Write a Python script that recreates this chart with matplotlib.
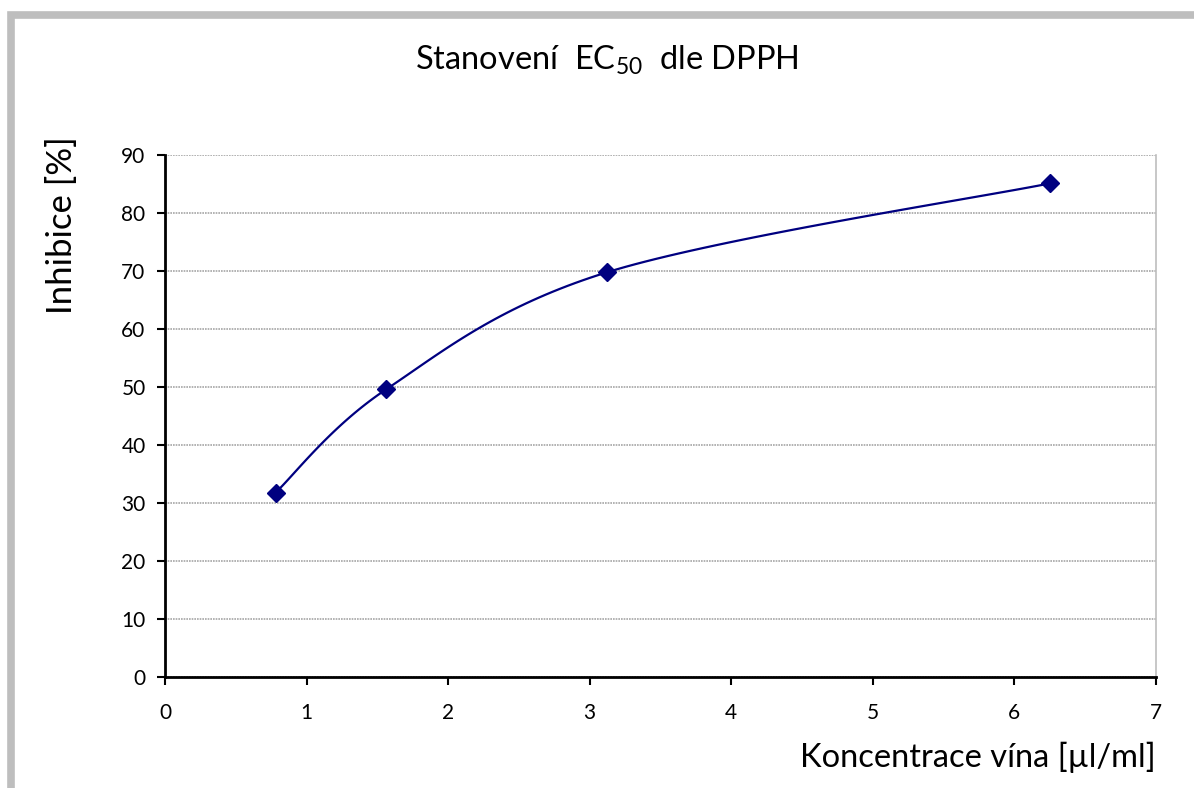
import numpy as np
import matplotlib
matplotlib.use("Agg")
import matplotlib.pyplot as plt
from matplotlib.patches import Rectangle

plt.rcParams['font.family'] = ['Lato', 'DejaVu Sans']
plt.rcParams['mathtext.fontset'] = 'custom'
plt.rcParams['mathtext.rm'] = 'Lato'

concentration = [0.78125, 1.5625, 3.125, 6.25]
inhibition = [31.8, 49.6, 69.8, 85.1]
x_ticks = [0, 1, 2, 3, 4, 5, 6, 7]
y_ticks = [0, 10, 20, 30, 40, 50, 60, 70, 80, 90]

W, H = 1194, 788
fig = plt.figure(figsize=(W / 100, H / 100), dpi=100)
ax = fig.add_axes([165 / W, 1 - 677 / H, (1156 - 165) / W, (677 - 155) / H])
ax.set_xlim(0, 7)
ax.set_ylim(0, 90)

# figure border (gray frame, cropped on right/bottom)
fig.add_artist(Rectangle((10.5 / W, -0.1), 1.2, 1 - 15.5 / H + 0.1, transform=fig.transFigure,
                         fill=False, edgecolor='#BEBEBE', linewidth=5.5, zorder=0))

# Excel-like smoothed line: Catmull-Rom in display space
def smooth(xs, ys, n=40):
    pts = ax.transData.transform(np.column_stack([xs, ys]))
    P = np.vstack([pts[0], pts, pts[-1]])
    out = []
    for i in range(1, len(P) - 2):
        p0, p1, p2, p3 = P[i - 1], P[i], P[i + 1], P[i + 2]
        c1 = p1 + (p2 - p0) / 6
        c2 = p2 - (p3 - p1) / 6
        t = np.linspace(0, 1, n)[:, None]
        seg = (1 - t) ** 3 * p1 + 3 * (1 - t) ** 2 * t * c1 + 3 * (1 - t) * t ** 2 * c2 + t ** 3 * p2
        out.append(seg if i == 1 else seg[1:])
    out = np.vstack(out)
    return ax.transData.inverted().transform(out)

curve = smooth(concentration, inhibition)
ax.plot(curve[:, 0], curve[:, 1], color='#000080', linewidth=1.6, zorder=3)
ax.plot(concentration, inhibition, linestyle='none', marker='D', markersize=9.5,
        color='#000080', zorder=4)

ax.set_xticks(x_ticks)
ax.set_yticks(y_ticks)
ax.tick_params(axis='both', direction='out', length=6, width=1.5, labelsize=15, colors='black')
ax.tick_params(axis='y', pad=8)
ax.tick_params(axis='x', pad=13)
ax.grid(axis='y', color='#A6A6A6', linewidth=1.2, linestyle=(0, (1, 0.6)))
ax.set_axisbelow(True)
for s in ['left', 'bottom']:
    ax.spines[s].set_color('black')
    ax.spines[s].set_linewidth(2)
for s in ['top', 'right']:
    ax.spines[s].set_color('#BEBEBE')
    ax.spines[s].set_linewidth(1.2)
ax.spines['top'].set_visible(False)

fig.text(607 / W, 1 - 60 / H, r'Stanovení  $\mathregular{EC_{50}}$  dle DPPH', ha='center', va='center',
         fontsize=23.5)
fig.text(1156 / W, 1 - 757 / H, 'Koncentrace vína [µl/ml]', ha='right', va='center', fontsize=23.5)
fig.text(62 / W, 1 - 225 / H, 'Inhibice [%]', ha='center', va='center', rotation=90, fontsize=25)

fig.savefig('out.png', dpi=100, facecolor='white')
